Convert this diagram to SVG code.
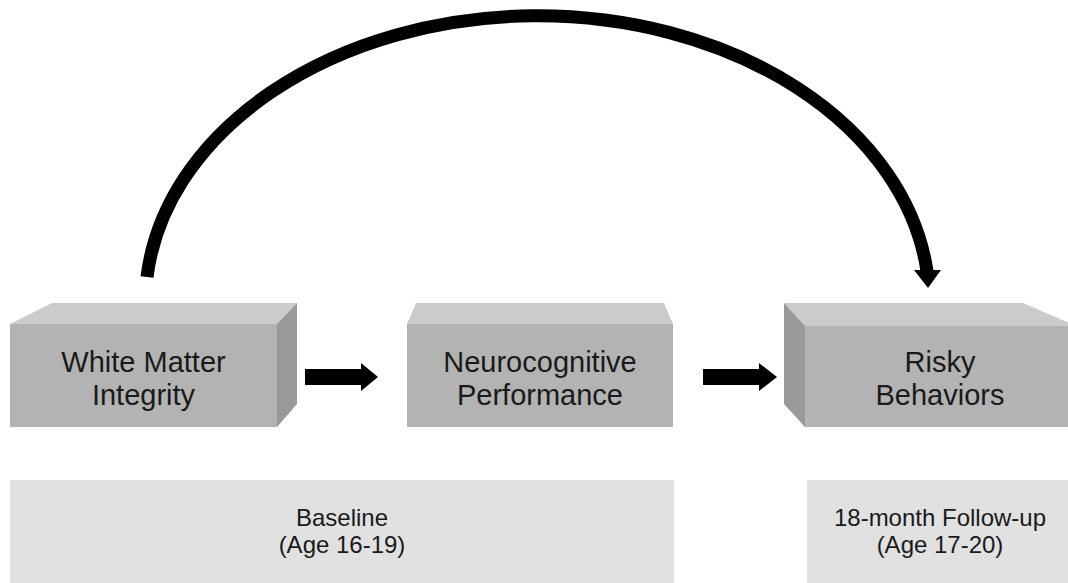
<svg xmlns="http://www.w3.org/2000/svg" width="1068" height="583" viewBox="0 0 1068 583">
<style>
.front{fill:#b3b3b3}
.top{fill:#cbcbcb}
.side{fill:#999999}
.band{fill:#e1e1e1}
.lbl{font-family:"Liberation Sans",Arial,sans-serif;font-size:29px;fill:#1a1a1a;text-anchor:middle}
.sub{font-family:"Liberation Sans",Arial,sans-serif;font-size:24px;fill:#1a1a1a;text-anchor:middle}
.arr{fill:#000}
</style>
<rect width="1068" height="583" fill="#ffffff"/>
<g id="band-baseline">
<rect class="band" x="10" y="480" width="664" height="103"/>
<text class="sub" x="342" y="526">Baseline</text>
<text class="sub" x="342" y="553">(Age 16-19)</text>
</g>
<g id="band-followup">
<rect class="band" x="807" y="480" width="261" height="103"/>
<text class="sub" x="940" y="526">18-month Follow-up</text>
<text class="sub" x="940" y="553">(Age 17-20)</text>
</g>
<g id="node-wmi">
<polygon class="top" points="10,324 52,303 297,303 277,324"/>
<polygon class="side" points="277,324 297,303 297,404 277,427"/>
<rect class="front" x="10" y="324" width="267" height="103"/>
<text class="lbl" x="143.5" y="372">White Matter</text>
<text class="lbl" x="143.5" y="405">Integrity</text>
</g>
<g id="node-neuro">
<polygon class="top" points="407,324 416,303 664,303 673,324"/>
<rect class="front" x="407" y="324" width="266" height="103"/>
<text class="lbl" x="540" y="372">Neurocognitive</text>
<text class="lbl" x="540" y="405">Performance</text>
</g>
<g id="node-risky">
<polygon class="top" points="784,303 1023,303 1076,326 805,326"/>
<polygon class="side" points="784,303 805,326 805,427 784,404"/>
<rect class="front" x="805" y="326" width="263" height="101"/>
<text class="lbl" x="940" y="372">Risky</text>
<text class="lbl" x="940" y="405">Behaviors</text>
</g>
<g id="connectors">
<polygon class="arr" points="305,369 361,369 361,363 378,377 361,391 361,385 305,385"/>
<polygon class="arr" points="703,369 759,369 759,363 777,377 759,391 759,385 703,385"/>
<path d="M147,277 A392,287 0 0 1 927,271" fill="none" stroke="#000" stroke-width="13"/>
<polygon class="arr" points="914,270 941,270 928,288"/>
</g>
</svg>
